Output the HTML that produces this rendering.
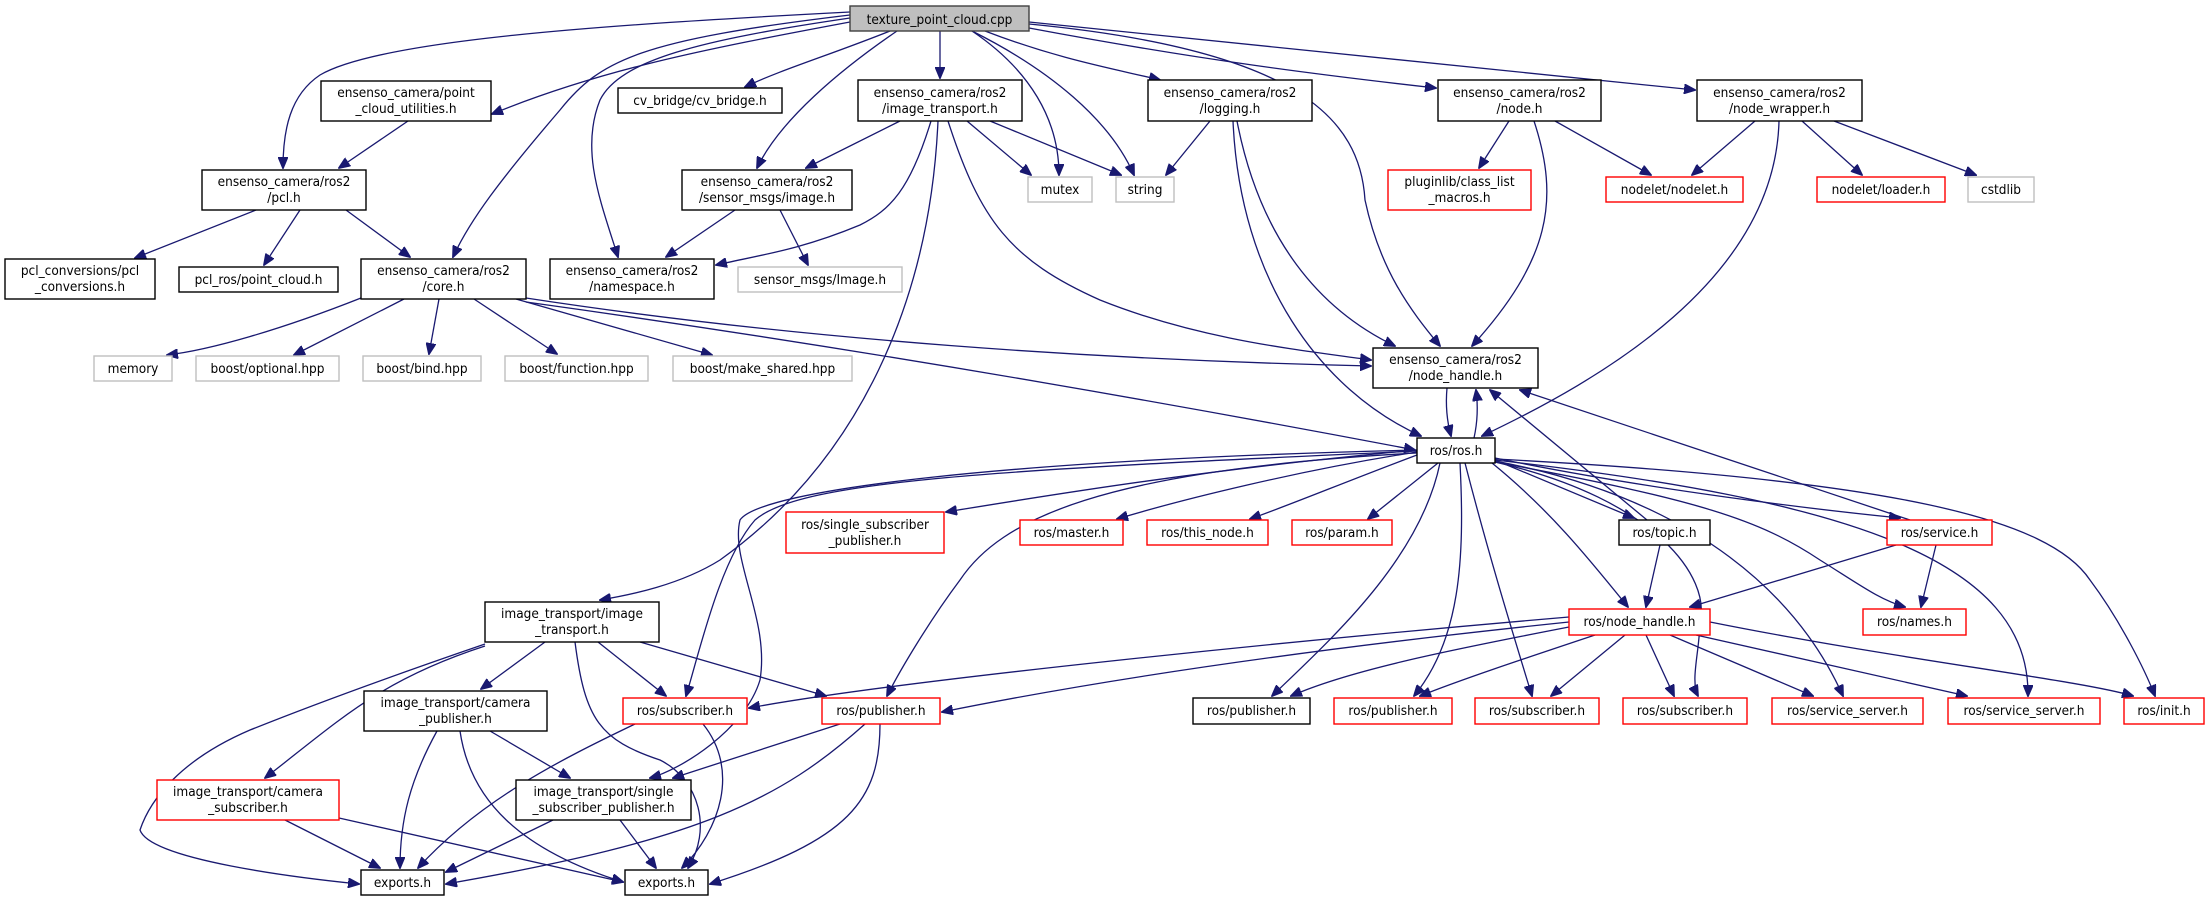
<!DOCTYPE html>
<html><head><meta charset="utf-8"><style>
html,body{margin:0;padding:0;background:#fff;}
svg{display:block;}
text{font-family:"DejaVu Sans Condensed","Liberation Sans Narrow","Liberation Sans",sans-serif;font-size:13.5px;fill:#000;text-anchor:middle;}
.b{fill:#fff;stroke:#000;stroke-width:1.4;}
.g{fill:#fff;stroke:#bfbfbf;stroke-width:1.4;}
.r{fill:#fff;stroke:#ff0000;stroke-width:1.4;}
.t{fill:#bfbfbf;stroke:#404040;stroke-width:1.4;}
path{fill:none;stroke:#191970;stroke-width:1.3;}
</style></head><body>
<svg width="2209" height="901" viewBox="0 0 2209 901" xmlns="http://www.w3.org/2000/svg">
<defs><marker id="a" markerWidth="12" markerHeight="10" refX="11" refY="5" orient="auto" markerUnits="userSpaceOnUse"><polygon points="0,0 12,5 0,10" fill="#191970" stroke="#191970"/></marker></defs>
<g marker-end="url(#a)">
<!-- from texture -->
<path d="M850,12 C600,25 380,40 320,75 C290,95 283,130 283,168"/>
<path d="M850,15 C640,40 600,60 560,110 C500,180 470,220 453,257"/>
<path d="M850,18 C700,40 620,60 600,100 C580,150 600,200 618,257"/>
<path d="M897,31 C840,70 780,120 757,168"/>
<path d="M850,22 C700,50 600,70 492,114"/>
<path d="M890,31 C830,55 780,70 745,87"/>
<path d="M940,31 L940,78"/>
<path d="M972,31 C1030,70 1059,120 1059,175"/>
<path d="M972,31 C1050,70 1110,120 1134,175"/>
<path d="M985,31 C1060,60 1120,70 1160,80"/>
<path d="M1029,28 C1200,60 1320,75 1436,88"/>
<path d="M1029,22 C1300,50 1500,70 1695,90"/>
<path d="M1029,24 C1300,50 1360,120 1365,200 C1380,270 1410,310 1440,346"/>
<!-- PCU, PCL -->
<path d="M408,121 L339,168"/>
<path d="M256,210 L135,258"/>
<path d="M300,210 L264,265"/>
<path d="M346,210 L410,257"/>
<!-- CORE -->
<path d="M361,298 C280,330 210,350 167,355"/>
<path d="M404,299 L294,355"/>
<path d="M439,299 L429,354"/>
<path d="M474,299 L557,354"/>
<path d="M516,299 L712,355"/>
<path d="M526,298 C800,340 1100,360 1371,366"/>
<path d="M526,302 C800,340 1100,390 1415,450"/>
<!-- IT2 -->
<path d="M900,121 L806,168"/>
<path d="M931,121 C910,190 890,210 860,225 C800,250 760,255 716,265"/>
<path d="M967,121 L1031,175"/>
<path d="M990,121 L1121,175"/>
<path d="M948,121 C980,220 1010,260 1100,300 C1200,340 1300,350 1371,360"/>
<path d="M938,121 C930,300 860,460 720,560 C680,585 630,595 600,600"/>
<!-- SMI -->
<path d="M735,210 L666,257"/>
<path d="M780,210 L808,265"/>
<!-- LOG -->
<path d="M1210,121 L1166,175"/>
<path d="M1237,121 C1260,240 1320,310 1395,346"/>
<path d="M1233,121 C1240,280 1320,390 1421,436"/>
<!-- NODE -->
<path d="M1509,121 L1479,168"/>
<path d="M1534,121 C1560,200 1550,260 1472,346"/>
<path d="M1555,121 L1651,175"/>
<!-- NW -->
<path d="M1755,121 L1692,175"/>
<path d="M1779,121 C1775,280 1600,380 1482,436"/>
<path d="M1802,121 L1862,175"/>
<path d="M1834,121 L1976,175"/>
<!-- NH <-> ROS -->
<path d="M1447,388 C1445,410 1448,425 1451,436"/>
<path d="M1474,438 C1478,420 1478,405 1476,390"/>
<path d="M1647,520 L1490,390"/>
<path d="M1910,520 L1520,390"/>
<!-- ROS out -->
<path d="M1417,450 C1200,470 1050,495 946,512"/>
<path d="M1417,452 C1300,470 1180,500 1117,519"/>
<path d="M1417,455 C1350,480 1290,505 1250,519"/>
<path d="M1438,463 L1368,519"/>
<path d="M1495,460 L1634,518"/>
<path d="M1495,458 C1650,490 1820,510 1900,518"/>
<path d="M1492,463 C1550,510 1590,560 1628,607"/>
<path d="M1495,462 C1700,500 1760,520 1820,560 C1860,585 1880,600 1905,607"/>
<path d="M1440,463 C1420,560 1330,640 1272,696"/>
<path d="M1460,463 C1465,560 1460,640 1414,696"/>
<path d="M1465,463 C1490,560 1515,640 1532,696"/>
<path d="M1495,462 C1660,500 1710,580 1700,620 C1700,650 1690,680 1698,696"/>
<path d="M1495,461 C1700,500 1800,600 1843,696"/>
<path d="M1495,460 C1850,500 2030,560 2028,696"/>
<path d="M1495,459 C1900,480 2050,520 2090,580 C2120,620 2145,670 2155,696"/>
<path d="M1417,451 C1000,470 800,480 755,520 C720,560 700,650 686,696"/>
<path d="M1417,453 C1100,470 1000,520 960,580 C930,620 900,670 887,696"/>
<path d="M1417,450 C1000,460 760,490 740,520 C730,560 770,620 760,680 C745,730 680,770 650,778"/>
<!-- topic/service -->
<path d="M1660,545 L1646,607"/>
<path d="M1896,545 L1690,607"/>
<path d="M1936,545 L1921,607"/>
<!-- RNH out -->
<path d="M1569,617 C1300,640 900,680 749,708"/>
<path d="M1569,622 C1300,650 1100,680 942,712"/>
<path d="M1569,627 C1450,650 1350,670 1291,696"/>
<path d="M1595,635 C1520,660 1460,680 1420,696"/>
<path d="M1625,635 L1551,696"/>
<path d="M1646,635 L1674,696"/>
<path d="M1670,635 L1813,696"/>
<path d="M1696,635 L1967,696"/>
<path d="M1710,622 C1900,660 2080,680 2133,696"/>
<!-- ITIT -->
<path d="M545,642 L481,689"/>
<path d="M485,646 C380,680 340,720 265,778"/>
<path d="M485,644 C380,680 300,710 250,730 C180,760 150,800 140,830 C150,860 300,878 359,884"/>
<path d="M598,642 L666,696"/>
<path d="M640,642 L826,696"/>
<path d="M575,642 C585,720 600,740 660,760 C700,780 712,830 688,868"/>
<!-- CAMPUB -->
<path d="M437,731 C410,780 400,820 400,868"/>
<path d="M460,731 C470,800 520,850 623,882"/>
<path d="M490,731 L570,778"/>
<!-- RSUB1 -->
<path d="M635,724 C560,760 480,800 418,868"/>
<path d="M703,724 C740,770 720,830 682,868"/>
<!-- RPUB1 -->
<path d="M840,724 L673,778"/>
<path d="M865,724 C780,800 700,840 446,884"/>
<path d="M880,724 C880,800 850,840 710,884"/>
<!-- CAMSUB, SINGLE -->
<path d="M285,820 L380,868"/>
<path d="M339,818 L623,882"/>
<path d="M553,820 L446,872"/>
<path d="M620,820 L656,868"/>
</g>
<!-- nodes -->
<rect class="t" x="850" y="6" width="179" height="25"/><text x="939.5" y="24">texture_point_cloud.cpp</text>
<rect class="b" x="321" y="81" width="170" height="40"/><text x="406" y="97">ensenso_camera/point</text><text x="406" y="113">_cloud_utilities.h</text>
<rect class="b" x="618" y="88" width="164" height="25"/><text x="700" y="105">cv_bridge/cv_bridge.h</text>
<rect class="b" x="858" y="80" width="164" height="41"/><text x="940" y="97">ensenso_camera/ros2</text><text x="940" y="113">/image_transport.h</text>
<rect class="b" x="1148" y="80" width="164" height="41"/><text x="1230" y="97">ensenso_camera/ros2</text><text x="1230" y="113">/logging.h</text>
<rect class="b" x="1438" y="80" width="163" height="41"/><text x="1519.5" y="97">ensenso_camera/ros2</text><text x="1519.5" y="113">/node.h</text>
<rect class="b" x="1697" y="80" width="165" height="41"/><text x="1779.5" y="97">ensenso_camera/ros2</text><text x="1779.5" y="113">/node_wrapper.h</text>
<rect class="b" x="202" y="170" width="164" height="40"/><text x="284" y="186">ensenso_camera/ros2</text><text x="284" y="202">/pcl.h</text>
<rect class="b" x="682" y="170" width="170" height="40"/><text x="767" y="186">ensenso_camera/ros2</text><text x="767" y="202">/sensor_msgs/image.h</text>
<rect class="g" x="1028" y="177" width="64" height="25"/><text x="1060" y="194">mutex</text>
<rect class="g" x="1116" y="177" width="58" height="25"/><text x="1145" y="194">string</text>
<rect class="r" x="1388" y="170" width="143" height="40"/><text x="1459.5" y="186">pluginlib/class_list</text><text x="1459.5" y="202">_macros.h</text>
<rect class="r" x="1606" y="177" width="137" height="25"/><text x="1674.5" y="194">nodelet/nodelet.h</text>
<rect class="r" x="1817" y="177" width="128" height="25"/><text x="1881" y="194">nodelet/loader.h</text>
<rect class="g" x="1968" y="177" width="66" height="25"/><text x="2001" y="194">cstdlib</text>
<rect class="b" x="5" y="259" width="150" height="40"/><text x="80" y="275">pcl_conversions/pcl</text><text x="80" y="291">_conversions.h</text>
<rect class="b" x="179" y="267" width="159" height="25"/><text x="258.5" y="284">pcl_ros/point_cloud.h</text>
<rect class="b" x="361" y="259" width="165" height="40"/><text x="443.5" y="275">ensenso_camera/ros2</text><text x="443.5" y="291">/core.h</text>
<rect class="b" x="550" y="259" width="164" height="40"/><text x="632" y="275">ensenso_camera/ros2</text><text x="632" y="291">/namespace.h</text>
<rect class="g" x="738" y="267" width="164" height="25"/><text x="820" y="284">sensor_msgs/Image.h</text>
<rect class="b" x="1373" y="348" width="165" height="40"/><text x="1455.5" y="364">ensenso_camera/ros2</text><text x="1455.5" y="380">/node_handle.h</text>
<rect class="g" x="94" y="356" width="78" height="25"/><text x="133" y="373">memory</text>
<rect class="g" x="196" y="356" width="143" height="25"/><text x="267.5" y="373">boost/optional.hpp</text>
<rect class="g" x="363" y="356" width="118" height="25"/><text x="422" y="373">boost/bind.hpp</text>
<rect class="g" x="505" y="356" width="143" height="25"/><text x="576.5" y="373">boost/function.hpp</text>
<rect class="g" x="673" y="356" width="179" height="25"/><text x="762.5" y="373">boost/make_shared.hpp</text>
<rect class="b" x="1417" y="438" width="78" height="25"/><text x="1456" y="455">ros/ros.h</text>
<rect class="r" x="786" y="512" width="158" height="41"/><text x="865" y="529">ros/single_subscriber</text><text x="865" y="545">_publisher.h</text>
<rect class="r" x="1020" y="520" width="103" height="25"/><text x="1071.5" y="537">ros/master.h</text>
<rect class="r" x="1147" y="520" width="121" height="25"/><text x="1207.5" y="537">ros/this_node.h</text>
<rect class="r" x="1292" y="520" width="100" height="25"/><text x="1342" y="537">ros/param.h</text>
<rect class="b" x="1619" y="520" width="91" height="25"/><text x="1664.5" y="537">ros/topic.h</text>
<rect class="r" x="1887" y="520" width="105" height="25"/><text x="1939.5" y="537">ros/service.h</text>
<rect class="b" x="485" y="602" width="174" height="40"/><text x="572" y="618">image_transport/image</text><text x="572" y="634">_transport.h</text>
<rect class="r" x="1569" y="609" width="141" height="26"/><text x="1639.5" y="626">ros/node_handle.h</text>
<rect class="r" x="1863" y="609" width="103" height="26"/><text x="1914.5" y="626">ros/names.h</text>
<rect class="b" x="364" y="691" width="183" height="40"/><text x="455.5" y="707">image_transport/camera</text><text x="455.5" y="723">_publisher.h</text>
<rect class="r" x="623" y="698" width="124" height="26"/><text x="685" y="715">ros/subscriber.h</text>
<rect class="r" x="822" y="698" width="118" height="26"/><text x="881" y="715">ros/publisher.h</text>
<rect class="b" x="1193" y="698" width="117" height="26"/><text x="1251.5" y="715">ros/publisher.h</text>
<rect class="r" x="1334" y="698" width="118" height="26"/><text x="1393" y="715">ros/publisher.h</text>
<rect class="r" x="1475" y="698" width="124" height="26"/><text x="1537" y="715">ros/subscriber.h</text>
<rect class="r" x="1623" y="698" width="124" height="26"/><text x="1685" y="715">ros/subscriber.h</text>
<rect class="r" x="1772" y="698" width="151" height="26"/><text x="1847.5" y="715">ros/service_server.h</text>
<rect class="r" x="1948" y="698" width="152" height="26"/><text x="2024" y="715">ros/service_server.h</text>
<rect class="r" x="2124" y="698" width="80" height="26"/><text x="2164" y="715">ros/init.h</text>
<rect class="r" x="157" y="780" width="182" height="40"/><text x="248" y="796">image_transport/camera</text><text x="248" y="812">_subscriber.h</text>
<rect class="b" x="516" y="780" width="175" height="40"/><text x="603.5" y="796">image_transport/single</text><text x="603.5" y="812">_subscriber_publisher.h</text>
<rect class="b" x="361" y="870" width="83" height="25"/><text x="402.5" y="887">exports.h</text>
<rect class="b" x="625" y="870" width="83" height="25"/><text x="666.5" y="887">exports.h</text>
</svg>
</body></html>
